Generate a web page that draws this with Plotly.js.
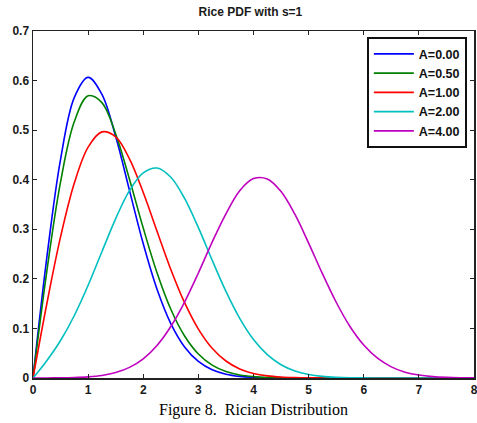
<!DOCTYPE html>
<html><head><meta charset="utf-8">
<script src="https://cdn.plot.ly/plotly-3.0.1.min.js"></script>
<style>html,body{margin:0;padding:0;background:#fff;}#chart{width:477px;height:423px;}</style>
</head><body><div id="chart"></div>
<script>
const xValues = [0,0.25,0.5,0.75,1,1.25,1.5,1.75,2,2.25,2.5,2.75,3,3.25,3.5,3.75,4,4.25,4.5,4.75,5,5.25,5.5,5.75,6,6.25,6.5,6.75,7,7.25,7.5,7.75,8];
const seriesNames = ["A=0.00","A=0.50","A=1.00","A=2.00","A=4.00"];
const seriesColors = ["#0000ff","#008000","#ff0000","#00bfbf","#bf00bf"];
const a000 = [0,0.2423,0.4412,0.5661,0.6065,0.5723,0.4870,0.3785,0.2707,0.1790,0.1098,0.0627,0.0333,0.0165,0.0077,0.0033,0.0013,0.0005,0.0002,0.0001,0,0,0,0,0,0,0,0,0,0,0,0,0];
const a050 = [0,0.2147,0.3955,0.5173,0.5692,0.5556,0.4924,0.4011,0.3024,0.2122,0.1386,0.0847,0.0484,0.0259,0.0130,0.0061,0.0027,0.0011,0.0004,0.0002,0.0001,0,0,0,0,0,0,0,0,0,0,0,0];
const a100 = [0,0.1493,0.2846,0.3933,0.4657,0.4965,0.4864,0.4420,0.3742,0.2962,0.2190,0.1519,0.0987,0.0600,0.0343,0.0183,0.0092,0.0043,0.0019,0.0008,0.0003,0.0001,0,0,0,0,0,0,0,0,0,0,0];
const a200 = [0,0.0349,0.0756,0.1261,0.1871,0.2547,0.3216,0.3779,0.4138,0.4236,0.4049,0.3622,0.3032,0.2377,0.1746,0.1203,0.0776,0.0470,0.0267,0.0142,0.0071,0.0033,0.0015,0.0006,0.0002,0.0001,0,0,0,0,0,0,0];
const a400 = [0,0.0001,0.0003,0.0009,0.0023,0.0052,0.0110,0.0214,0.0388,0.0657,0.1038,0.1532,0.2119,0.2741,0.3312,0.3777,0.4022,0.4016,0.3761,0.3304,0.2722,0.2105,0.1528,0.1040,0.0665,0.0399,0.0225,0.0118,0.0059,0.0027,0.0012,0.0005,0.0002];
const seriesValues = [a000,a050,a100,a200,a400];
const xTicks = [0,1,2,3,4,5,6,7,8];
const yTicks = [0,0.1,0.2,0.3,0.4,0.5,0.6,0.7];
const yTickLabels = ["0","0.1","0.2","0.3","0.4","0.5","0.6","0.7"];

const traces = seriesValues.map((v,i)=>({
  x: xValues, y: v, name: seriesNames[i], type:'scatter', mode:'lines',
  line:{color:seriesColors[i], width:1.6, shape:'spline', smoothing:1}
}));

const tickFont = {family:'Arial, Liberation Sans, sans-serif', size:12, color:'#1a1a1a', weight:'bold'};
const layout = {
  width:477, height:423,
  margin:{l:33,r:3,t:31,b:45},
  paper_bgcolor:'#fff', plot_bgcolor:'#fff',
  showlegend:true,
  title:{text:'Rice PDF with s=1', x:0.525, xanchor:'center', y:0.972, yanchor:'middle',
         font:{family:'Arial, Liberation Sans, sans-serif', size:12, color:'#1a1a1a', weight:'bold'}},
  xaxis:{range:[0,8], tickvals:xTicks, ticktext:xTicks.map(String), ticks:'inside', ticklen:4,
         tickcolor:'#222', showline:true, linecolor:'#222', linewidth:1.5, mirror:'ticks',
         showgrid:false, zeroline:false, tickfont:tickFont, ticklabeloverflow:'allow'},
  yaxis:{range:[0,0.7], tickvals:yTicks, ticktext:yTickLabels, ticks:'inside', ticklen:4,
         tickcolor:'#222', showline:true, linecolor:'#222', linewidth:1.5, mirror:'ticks',
         showgrid:false, zeroline:false, tickfont:tickFont, ticklabeloverflow:'allow'},
  legend:{x:0.757, y:0.982, xanchor:'left', yanchor:'top', bgcolor:'#fff',
          bordercolor:'#111', borderwidth:2, itemwidth:40, tracegroupgap:0,
          font:{family:'Arial, Liberation Sans, sans-serif', size:12.5, color:'#111', weight:'bold'}},
  annotations:[{text:'Figure 8.  Rician Distribution', xref:'paper', yref:'paper',
     x:0.5, y:-0.092, xanchor:'center', yanchor:'middle', showarrow:false,
     font:{family:'Liberation Serif, Times New Roman, serif', size:16, color:'#000'}}]
};
Plotly.newPlot('chart', traces, layout, {staticPlot:true, displayModeBar:false});
</script></body></html>
